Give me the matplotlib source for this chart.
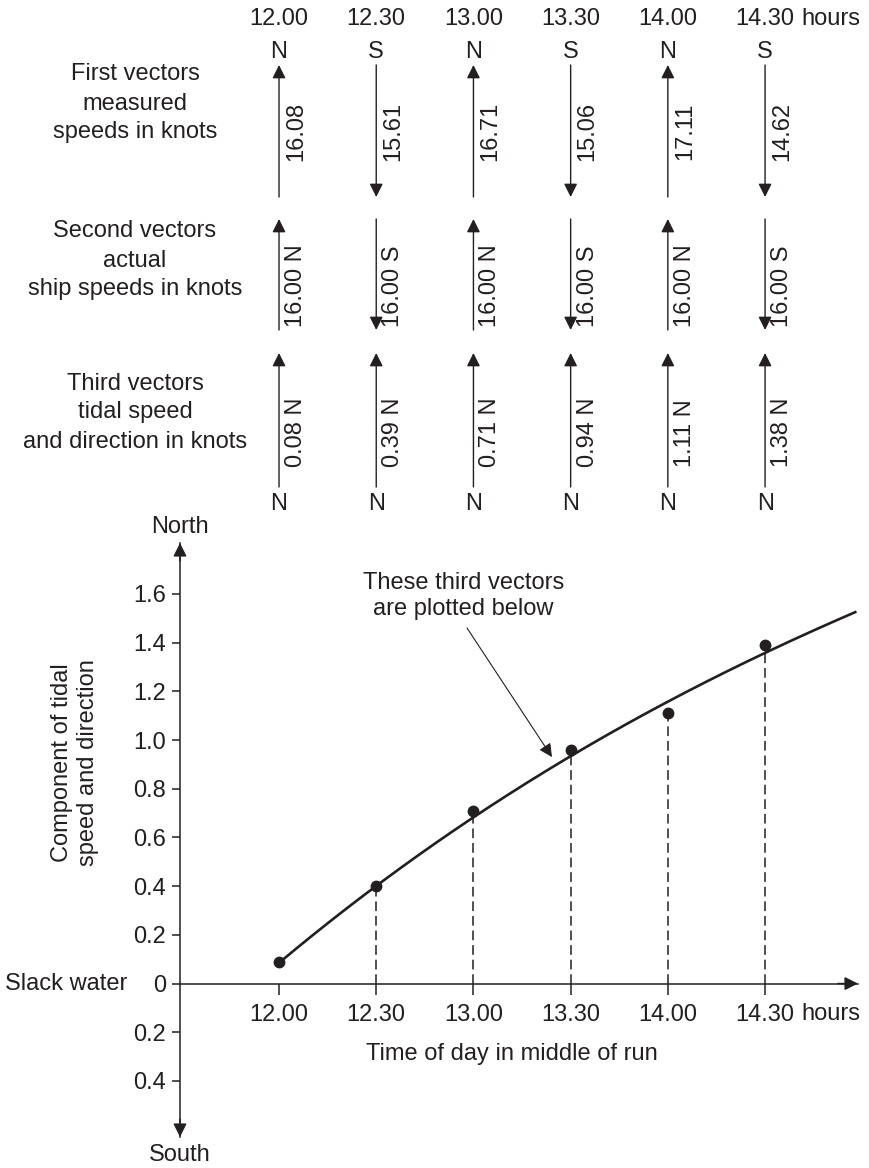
import numpy as np
import matplotlib
matplotlib.use("Agg")
import matplotlib.pyplot as plt

# ---------------- data ----------------
times = [12.0, 12.5, 13.0, 13.5, 14.0, 14.5]
time_labels = ["12.00", "12.30", "13.00", "13.30", "14.00", "14.30"]
first_dirs = ["N", "S", "N", "S", "N", "S"]
first_speeds = [16.08, 15.61, 16.71, 15.06, 17.11, 14.62]
ship_dirs = ["N", "S", "N", "S", "N", "S"]
ship_speeds = [16.00, 16.00, 16.00, 16.00, 16.00, 16.00]
tidal_dirs = ["N", "N", "N", "N", "N", "N"]
tidal_speeds = [0.08, 0.39, 0.71, 0.94, 1.11, 1.38]
plotted_points = [0.09, 0.40, 0.71, 0.96, 1.11, 1.39]
curve_times = [12.0, 12.5, 13.0, 13.5, 14.0, 14.5, 14.97]
curve_values = [0.085, 0.40, 0.685, 0.935, 1.15, 1.365, 1.525]
yticks = [-0.4, -0.2, 0.0, 0.2, 0.4, 0.6, 0.8, 1.0, 1.2, 1.4, 1.6]
ytick_labels = ["0.4", "0.2", "0", "0.2", "0.4", "0.6", "0.8", "1.0", "1.2", "1.4", "1.6"]

# ---------------- style ----------------
INK = "#231f20"
FS = 17
plt.rcParams["font.family"] = ["Liberation Sans", "DejaVu Sans"]
plt.rcParams["font.size"] = FS
plt.rcParams["text.color"] = INK
plt.rcParams["lines.scale_dashes"] = False

W, H = 869, 1168
fig = plt.figure(figsize=(W / 100, H / 100), dpi=100)


def fx(px):
    return px / W


def fy(py):
    return 1 - py / H


XLIM = (11.4907, 14.978)
head = "-|>,head_length=0.5,head_width=0.25"

# ---------------- lower chart ----------------
ax = fig.add_axes([fx(180), fy(1137), (858 - 180) / W, (1137 - 543) / H])
ax.set_xlim(*XLIM)
ax.set_ylim(-0.630, 1.809)
for s in ("top", "right"):
    ax.spines[s].set_visible(False)
ax.spines["bottom"].set_position(("data", 0))
for s in ("left", "bottom"):
    ax.spines[s].set_linewidth(1.1)
    ax.spines[s].set_color(INK)
ax.set_xticks(times, time_labels)
ax.set_yticks(yticks, ytick_labels)
ax.tick_params(axis="x", direction="out", length=8, width=1.1, pad=6.5,
               labelsize=FS, colors=INK)
ax.tick_params(axis="y", direction="out", length=5.5, width=1.1, pad=4.5,
               labelsize=FS, colors=INK)

arrow_kw = dict(arrowstyle=head, mutation_scale=16, lw=1.1, color=INK,
                shrinkA=0, shrinkB=0)
ax.annotate("", xy=(0, 1), xytext=(0, 0.97), xycoords="axes fraction",
            arrowprops=arrow_kw)
ax.annotate("", xy=(0, 0), xytext=(0, 0.03), xycoords="axes fraction",
            arrowprops=arrow_kw)
ax.annotate("", xy=(1, 0), xytext=(0.97, 0), xycoords=ax.get_yaxis_transform(),
            arrowprops=arrow_kw)

ax.annotate("North", xy=(0, 1), xycoords="axes fraction", xytext=(0, 16),
            textcoords="offset pixels", ha="center", va="center")
ax.annotate("South", xy=(0, 0), xycoords="axes fraction", xytext=(0, -18),
            textcoords="offset pixels", ha="center", va="center")
ax.annotate("Slack water", xy=(0, 0), xycoords=ax.get_yaxis_transform(),
            xytext=(-53, 0), textcoords="offset pixels", ha="right", va="center")
ax.annotate("hours", xy=(times[-1], 0), xytext=(36, -36.5),
            textcoords="offset pixels", ha="left", va="baseline")

fit = np.polyfit(curve_times, curve_values, 3)
tt = np.linspace(curve_times[0], curve_times[-1], 300)
ax.plot(tt, np.polyval(fit, tt), color=INK, lw=1.9, solid_capstyle="butt")
tops = np.minimum(plotted_points, np.polyval(fit, times))
ax.vlines(times[1:], 0, tops[1:], colors=INK, lw=1.1, linestyles=(0, (7, 3.5)))
ax.plot(times, plotted_points, "o", ms=7.5, color=INK)

ax.text(12.947, 1.591, "These third vectors\nare plotted below", ha="center",
        va="center", linespacing=1.2)
ax.annotate("", xy=(13.404, 0.930), xytext=(12.967, 1.460),
            arrowprops=dict(arrowstyle=head, mutation_scale=16, lw=0.8,
                            color=INK, shrinkA=0, shrinkB=0))

fig.text(fx(75), fy(763), "Component of tidal\nspeed and direction",
         rotation=90, ha="center", va="center", linespacing=1.25)
fig.text(fx(512), fy(1060), "Time of day in middle of run", ha="center",
         va="baseline")

# ---------------- upper vector diagram ----------------
axT = fig.add_axes([fx(180), fy(530), (858 - 180) / W, 530 / H])
axT.set_xlim(*XLIM)
axT.set_ylim(530, 0)
axT.axis("off")

vec_kw = dict(arrowstyle=head, mutation_scale=16, lw=1.0, color=INK,
              shrinkA=0, shrinkB=0)


def vector(t, top, bottom, d):
    if d == "N":
        axT.annotate("", xy=(t, top), xytext=(t, bottom), arrowprops=vec_kw)
    else:
        axT.annotate("", xy=(t, bottom), xytext=(t, top), arrowprops=vec_kw)


for i, t in enumerate(times):
    axT.text(t, 25, time_labels[i], ha="center", va="baseline")
    axT.text(t, 57.5, first_dirs[i], ha="center", va="baseline")
    vector(t, 65, 197, first_dirs[i])
    axT.annotate(f"{first_speeds[i]:.2f}", xy=(t, 131), xytext=(17, 0),
                 textcoords="offset pixels", rotation=90, ha="center",
                 va="center")
    vector(t, 219, 330, ship_dirs[i])
    axT.annotate(f"{ship_speeds[i]:.2f} {ship_dirs[i]}", xy=(t, 327),
                 xytext=(17, 0), textcoords="offset pixels", rotation=90,
                 ha="center", va="bottom")
    vector(t, 353, 487, tidal_dirs[i])
    axT.annotate(f"{tidal_speeds[i]:.2f} {tidal_dirs[i]}", xy=(t, 467),
                 xytext=(17, 0), textcoords="offset pixels", rotation=90,
                 ha="center", va="bottom")
    axT.text(t, 510, tidal_dirs[i], ha="center", va="baseline")

axT.annotate("hours", xy=(times[-1], 25), xytext=(36, 0),
             textcoords="offset pixels", ha="left", va="baseline")

left_lines = [
    ("First vectors", 80), ("measured", 110), ("speeds in knots", 138),
    ("Second vectors", 237), ("actual", 267), ("ship speeds in knots", 295),
    ("Third vectors", 390), ("tidal speed", 418), ("and direction in knots", 448),
]
for txt, base in left_lines:
    fig.text(fx(135), fy(base), txt, ha="center", va="baseline")

fig.savefig("out.png", dpi=100)
